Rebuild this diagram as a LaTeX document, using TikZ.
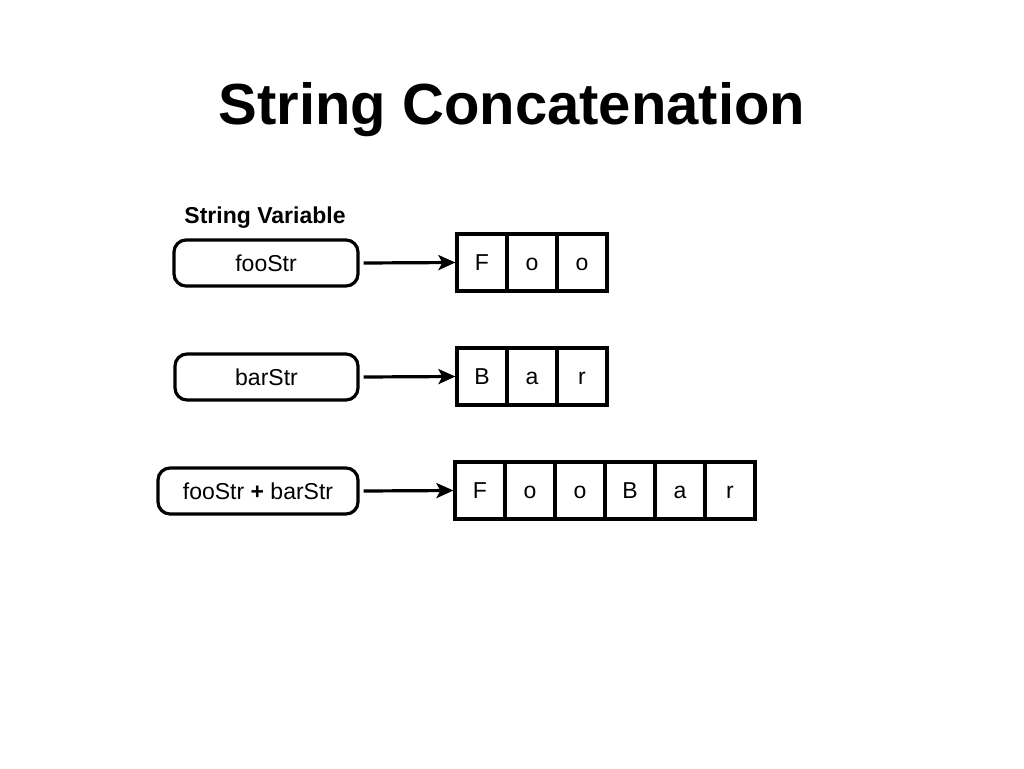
\documentclass[tikz,border=0pt]{standalone}
\usepackage{fontspec}
\setmainfont{Liberation Sans}
\usetikzlibrary{arrows.meta}
\begin{document}
\begin{tikzpicture}[x=1pt,y=-1pt,
  txt/.style={font=\fontsize{23}{26}\selectfont,text height=16pt,text depth=0pt},
  varbox/.style={txt,draw,line width=3.2pt,rounded corners=12pt,minimum height=46pt,inner sep=0pt},
  cell/.style={txt,draw,line width=3.2pt,minimum width=50pt,minimum height=57pt,inner sep=0pt},
  ptr/.style={line width=3.2pt,-{Stealth[length=17pt,width=15pt,inset=4pt]}}]
\useasboundingbox (0,0) rectangle (1024,768);
\node (title) at (512,110) {\fontsize{58}{64}\selectfont\bfseries String Concatenation};
\node (lbl) at (265,218) {\fontsize{23}{26}\selectfont\bfseries String Variable};
% variables
\node[varbox,minimum width=184pt] (foo) at (266,263) {fooStr};
\node[varbox,minimum width=183pt] (bar) at (266.5,377) {barStr};
\node[varbox,minimum width=200pt] (sum) at (258,491) {fooStr \textbf{+} barStr};
% character arrays
\foreach \c [count=\i] in {F,o,o}
  \node[cell] (f\i) at (457+50*\i-25,262.5) {\c};
\foreach \c [count=\i] in {B,a,r}
  \node[cell] (b\i) at (457+50*\i-25,376.5) {\c};
\foreach \c [count=\i] in {F,o,o,B,a,r}
  \node[cell] (s\i) at (455+50*\i-25,490.5) {\c};
% references
\draw[ptr] (foo.east) ++(4pt,0) -- (f1.west);
\draw[ptr] (bar.east) ++(4pt,0) -- (b1.west);
\draw[ptr] (sum.east) ++(4pt,0) -- (s1.west);
\end{tikzpicture}
\end{document}
